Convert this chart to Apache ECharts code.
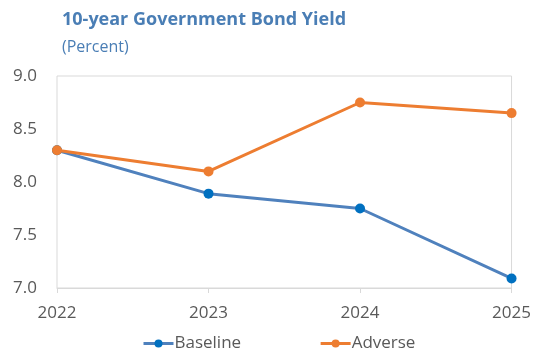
<!DOCTYPE html>
<html><head><meta charset="utf-8">
<script src="https://cdn.jsdelivr.net/npm/echarts@6/dist/echarts.min.js"></script>
<style>html,body{margin:0;padding:0;background:#fff}#c{width:534px;height:350px}</style>
</head><body><div id="c"></div>
<script>
var years = ['2022', '2023', '2024', '2025'];
var baseline = [8.3, 7.89, 7.75, 7.09];
var adverse = [8.3, 8.1, 8.75, 8.65];
var yTicks = [7.0, 7.5, 8.0, 8.5, 9.0];

var chart = echarts.init(document.getElementById('c'), null, {renderer: 'canvas'});
var font = "'Open Sans', 'Noto Sans', sans-serif";
function mk(name, data, lineColor, dotColor) {
  return {
    name: name, type: 'line', data: data,
    symbol: 'circle', symbolSize: 10,
    lineStyle: {color: lineColor, width: 3},
    itemStyle: {color: dotColor},
    z: name === 'Adverse' ? 3 : 2
  };
}
chart.setOption({
  animation: false,
  textStyle: {fontFamily: font},
  title: [
    {text: '10-year Government Bond Yield', left: 57, top: 6,
     textStyle: {fontFamily: font, fontSize: 18, fontWeight: 'bold', color: '#4a7eb5'}},
    {text: '(Percent)', left: 57, top: 34,
     textStyle: {fontFamily: font, fontSize: 16, fontWeight: 'normal', color: '#4a7eb5'}}
  ],
  grid: {left: 57, right: 22, top: 76, bottom: 62, show: true, borderColor: '#d9d9d9', borderWidth: 1},
  legend: {
    top: 330, left: 137, itemGap: 78, itemWidth: 30, itemHeight: 10,
    textStyle: {fontFamily: font, fontSize: 17, color: '#595959', padding: [0, 0, 0, -4]},
    data: [
      {name: 'Baseline', itemStyle: {color: '#0070c0'}, lineStyle: {color: '#4f81bd', width: 3}},
      {name: 'Adverse', itemStyle: {color: '#ed7d31'}, lineStyle: {color: '#ed7d31', width: 3}}
    ]
  },
  xAxis: {
    type: 'category', data: years, boundaryGap: false,
    axisLine: {lineStyle: {color: '#d9d9d9'}},
    axisTick: {show: true, length: 5, lineStyle: {color: '#d9d9d9'}},
    axisLabel: {fontFamily: font, fontSize: 17, color: '#595959', margin: 17},
    splitLine: {show: false}
  },
  yAxis: {
    type: 'value', min: yTicks[0], max: yTicks[yTicks.length - 1], interval: 0.5,
    axisLine: {show: false}, axisTick: {show: false},
    axisLabel: {fontFamily: font, fontSize: 17, color: '#595959', margin: 20,
      formatter: function (v) { return v.toFixed(1); }},
    splitLine: {show: false}
  },
  series: [
    mk('Baseline', baseline, '#4f81bd', '#0070c0'),
    mk('Adverse', adverse, '#ed7d31', '#ed7d31')
  ]
});
</script></body></html>
